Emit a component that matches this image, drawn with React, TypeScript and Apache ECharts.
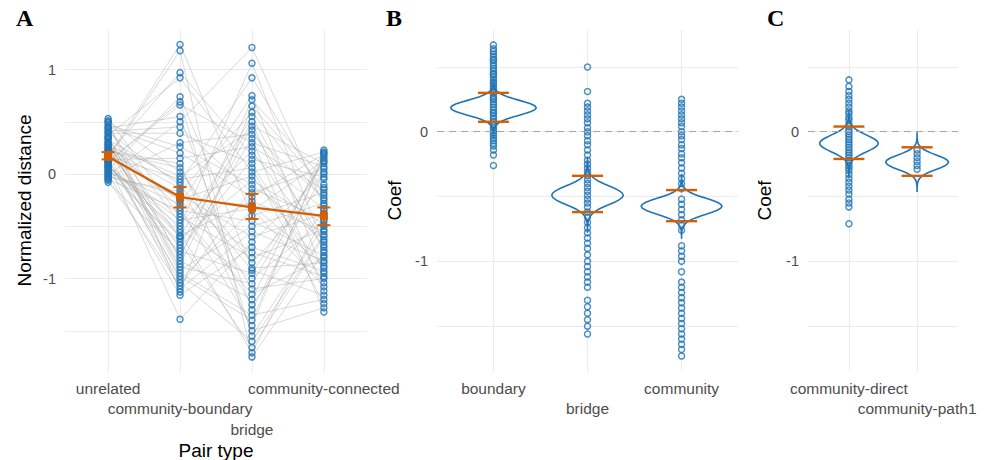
import React, { useEffect, useRef } from "react";
import * as echarts from "echarts";

// ---------- Panel A data ----------
const pairTypes = ["unrelated", "community-boundary", "bridge", "community-connected"];
const unrelated = [
  0.53, 0.12, 0.31, -0.03, 0.45, 0.2, 0.08, 0.39, -0.08, 0.27,
  0.16, 0.49, 0.02, 0.35, 0.22, 0.1, 0.43, -0.01, 0.29, 0.18,
  0.05, 0.51, 0.14, 0.37, -0.05, 0.25, 0.09, 0.41, 0.19, 0.0,
  0.33, 0.13, 0.47, 0.06, 0.24, 0.15, -0.02, 0.3, 0.21, 0.11,
  0.5, 0.04, 0.28, 0.17, 0.36, 0.07, 0.44, -0.06, 0.23, 0.14,
  0.01, 0.4, 0.19, 0.26, 0.03, 0.34, 0.12, 0.17, -0.04, 0.08,
];
const communityBoundary = [
  -0.41, 0.66, -0.95, -0.17, 0.2, -1.1, -0.56, 0.39, -0.74, -0.02,
  1.24, -0.83, -0.29, -0.62, 0.1, -1.39, -0.47, 0.5, -0.89, -0.23,
  -0.68, 0.02, -1.04, 0.92, -0.35, -0.14, -0.77, 0.45, -0.53, -1.16,
  -0.08, -0.98, 0.26, -0.44, -0.71, 1.18, -0.2, -0.86, 0.06, -0.59,
  -1.13, 0.74, -0.32, -0.05, -0.92, -0.5, 0.55, -1.07, -0.26, 0.15,
  -0.65, -0.11, 0.97, -1.01, -0.38, -0.8, 0.69, -0.24, 0.3, -0.6,
];
const bridge = [
  -0.8, 0.3, -1.35, 0.59, -0.22, -0.55, -1.71, 0.1, -0.95, 0.42,
  -0.4, -1.2, 0.75, -0.06, -1.5, -0.65, 0.22, 1.21, -1.05, -0.3,
  0.5, -0.85, -1.6, 0.02, -0.45, -1.25, 0.34, -0.18, -1.0, -0.7,
  0.92, -1.4, -0.1, -0.33, 0.14, -1.75, -0.6, 0.46, -1.1, -0.26,
  0.65, -0.9, -1.45, 0.06, -0.5, 1.06, -1.3, -0.14, -0.75, 0.26,
  -1.66, -0.92, 0.18, -0.35, -1.15, 0.71, -1.55, -0.02, 0.38, 0.55,
];
const communityConnected = [
  -0.53, 0.07, -1.2, -0.25, 0.19, -0.83, -0.4, -1.04, 0.12, -0.65,
  -0.18, 0.23, -0.95, -0.48, -1.28, 0.0, -0.7, -0.3, 0.15, -0.88,
  -1.12, -0.1, -0.58, 0.21, -0.78, -0.35, -1.32, 0.05, -0.45, -0.93,
  -0.2, 0.17, -0.63, -1.08, -0.03, -0.75, -0.38, 0.1, -1.0, -0.55,
  -0.13, -0.85, 0.2, -1.24, -0.28, -0.68, 0.02, -0.43, -0.98, -0.15,
  -0.6, -1.16, -0.33, 0.13, -0.8, -0.05, -0.5, -0.9, -0.23, -0.73,
];
const pairMeans = [0.165, -0.22, -0.32, -0.4];
const pairLower = [0.14, -0.32, -0.43, -0.49];
const pairUpper = [0.21, -0.125, -0.19, -0.32];
const yBreaksA = [-1, 0, 1];
const yGridA = [-1.5, -1, -0.5, 0, 0.5, 1];

// ---------- Panel B data ----------
const typesB = ["boundary", "bridge", "community"];
const coefBoundary = [
  0.67, 0.64, 0.62, 0.6, 0.58, 0.56, 0.55, 0.53, 0.51, 0.49, 0.47, 0.45, 0.44, 0.42, 0.4, 0.38,
  0.37, 0.35, 0.33, 0.31, 0.3, 0.28, 0.26, 0.25, 0.23, 0.21, 0.19, 0.17, 0.15, 0.14, 0.12, 0.1,
  0.08, 0.06, 0.05, 0.03, 0.01, -0.01, -0.03, -0.05, -0.07, -0.09, -0.11, -0.14, -0.18, -0.26,
];
const coefBridge = [
  0.5, 0.31, 0.22, 0.19, 0.16, 0.13, 0.1, 0.07, 0.03, 0.0, -0.03, -0.07, -0.1, -0.14, -0.18, -0.22,
  -0.25, -0.28, -0.31, -0.34, -0.37, -0.4, -0.43, -0.46, -0.49, -0.52, -0.55, -0.58, -0.62, -0.66,
  -0.7, -0.74, -0.78, -0.82, -0.86, -0.9, -0.95, -1.0, -1.04, -1.08, -1.12, -1.16, -1.2, -1.3, -1.35,
  -1.4, -1.45, -1.5, -1.56,
];
const coefCommunity = [
  0.25, 0.22, 0.19, 0.16, 0.13, 0.1, 0.07, 0.04, 0.0, -0.03, -0.06, -0.1, -0.13, -0.17, -0.2, -0.24,
  -0.28, -0.32, -0.36, -0.4, -0.44, -0.52, -0.56, -0.6, -0.64, -0.68, -0.72, -0.76, -0.88, -0.92,
  -0.96, -1.0, -1.08, -1.16, -1.2, -1.24, -1.28, -1.32, -1.36, -1.4, -1.44, -1.48, -1.52, -1.56,
  -1.6, -1.64, -1.68, -1.73,
];
const violinCenterB = [0.185, -0.49, -0.575];
const violinSdB = [0.057, 0.071, 0.061];
const violinWidthB = [0.455, 0.38, 0.43];
const intervalLowB = [0.077, -0.62, -0.69];
const intervalHighB = [0.3, -0.34, -0.45];

// ---------- Panel C data ----------
const typesC = ["community-direct", "community-path1"];
const coefDirect = [
  0.4, 0.35, 0.31, 0.28, 0.25, 0.22, 0.19, 0.16, 0.14, 0.11, 0.09, 0.06, 0.04, 0.02, 0.0, -0.02,
  -0.04, -0.06, -0.08, -0.1, -0.12, -0.14, -0.16, -0.18, -0.2, -0.22, -0.24, -0.26, -0.28, -0.3,
  -0.33, -0.36, -0.39, -0.42, -0.45, -0.48, -0.52, -0.55, -0.58, -0.71,
];
const coefPath1 = [-0.14, -0.17, -0.2, -0.23, -0.26, -0.29];
const violinCenterC = [-0.09, -0.235];
const violinSdC = [0.064, 0.056];
const violinWidthC = [0.43, 0.46];
const intervalLowC = [-0.21, -0.34];
const intervalHighC = [0.04, -0.12];
const yBreaksBC = [-1, 0];
const yGridBC = [-1.5, -1, -0.5, 0, 0.5];

// relative violin half-width, from -4 sd to +4 sd in quarter-sd steps
const densityProfile = [
  0.0003, 0.0009, 0.0022, 0.0051, 0.011, 0.023, 0.044, 0.08, 0.135, 0.216, 0.325, 0.458, 0.607,
  0.755, 0.882, 0.969, 1, 0.969, 0.882, 0.755, 0.607, 0.458, 0.325, 0.216, 0.135, 0.08, 0.044,
  0.023, 0.011, 0.0051, 0.0022, 0.0009, 0.0003,
];

const BLUE = "#1f74b5";
const ORANGE = "#D55E00";
const SANS = "'Liberation Sans', Arial, Helvetica, sans-serif";
const GRID_LINE = { color: "#ebebeb", width: 1.1 };

// One x axis per label row (dodged labels), all sharing the same scale at the bottom of the grid.
function makeXAxes(gridIndex: number, cats: string[], rows: number, name: string) {
  const axes: any[] = [];
  for (let r = 0; r < rows; r++) {
    const labelIdx = cats.map((_, i) => i).filter((i) => i % rows === r);
    axes.push({
      type: "value",
      gridIndex,
      position: "bottom",
      offset: 0,
      min: -0.6,
      max: cats.length - 1 + 0.6,
      axisLine: { show: false },
      axisTick: { show: false, customValues: cats.map((_, i) => i) },
      splitLine: { show: r === 0, lineStyle: GRID_LINE },
      axisLabel: {
        customValues: labelIdx,
        showMinLabel: true,
        showMaxLabel: true,
        formatter: (v: number) => cats[Math.round(v)],
        fontSize: 15.5,
        lineHeight: 20.5,
        margin: 7 + r * 20.5,
        color: "#4d4d4d",
        fontFamily: SANS,
      },
      name: r === 0 ? name : "",
      nameLocation: "middle",
      nameGap: 70,
      nameTextStyle: { fontSize: 19, color: "#000", fontFamily: SANS },
    });
  }
  return axes;
}

function makeY(gridIndex: number, min: number, max: number, breaks: number[], gridVals: number[], name: string, nameGap: number) {
  return {
    type: "value",
    gridIndex,
    min,
    max,
    axisLine: { show: false },
    axisTick: { show: false, customValues: gridVals },
    splitLine: { show: true, lineStyle: GRID_LINE },
    axisLabel: {
      customValues: breaks,
      showMinLabel: true,
      showMaxLabel: true,
      formatter: (v: number) => String(v),
      fontSize: 14.5,
      margin: 9,
      color: "#4d4d4d",
      fontFamily: SANS,
    },
    name,
    nameLocation: "middle",
    nameGap,
    nameTextStyle: { fontSize: 19, color: "#000", fontFamily: SANS },
  };
}

function pointsSeries(xAxis: number, yAxis: number, groups: number[][], withZero: boolean) {
  const data: number[][] = [];
  groups.forEach((g, i) => g.forEach((v) => data.push([i, v])));
  const s: any = {
    type: "scatter",
    xAxisIndex: xAxis,
    yAxisIndex: yAxis,
    data,
    symbol: "circle",
    symbolSize: 6,
    itemStyle: { color: "rgba(255,255,255,0)", borderColor: BLUE, borderWidth: 1.5 },
    z: 3,
    silent: true,
  };
  if (withZero) {
    s.markLine = {
      silent: true,
      symbol: "none",
      label: { show: false },
      lineStyle: { type: [7, 5], color: "#a6a6a6", width: 1.1 },
      data: [{ yAxis: 0 }],
    };
  }
  return s;
}

function violinSeries(xAxis: number, yAxis: number, centers: number[], sds: number[], widths: number[]) {
  return {
    type: "custom",
    xAxisIndex: xAxis,
    yAxisIndex: yAxis,
    silent: true,
    z: 4,
    data: centers.map((c, i) => [i, c, sds[i], widths[i]]),
    renderItem: (_p: any, api: any) => {
      const x = api.value(0);
      const c = api.value(1);
      const sd = api.value(2);
      const w = api.value(3);
      const right: number[][] = [];
      const left: number[][] = [];
      const n = densityProfile.length;
      densityProfile.forEach((d, k) => {
        const z = -4 + (8 * k) / (n - 1);
        const y = c + z * sd;
        right.push(api.coord([x + w * d, y]));
        left.push(api.coord([x - w * d, y]));
      });
      return {
        type: "polygon",
        shape: { points: right.concat(left.reverse()) },
        style: { fill: "none", stroke: BLUE, lineWidth: 1.6 },
      };
    },
  };
}

function intervalSeries(xAxis: number, yAxis: number, lows: number[], highs: number[]) {
  return {
    type: "custom",
    xAxisIndex: xAxis,
    yAxisIndex: yAxis,
    silent: true,
    z: 6,
    data: lows.map((l, i) => [i, l, highs[i]]),
    renderItem: (_p: any, api: any) => {
      const x = api.value(0);
      const pts = [api.coord([x, api.value(1)]), api.coord([x, api.value(2)])];
      return {
        type: "group",
        children: pts.map((p) => ({
          type: "line",
          shape: { x1: p[0] - 15.5, y1: p[1], x2: p[0] + 15.5, y2: p[1] },
          style: { stroke: ORANGE, lineWidth: 2.4 },
        })),
      };
    },
  };
}

export default function App() {
  const ref = useRef<HTMLDivElement>(null);
  useEffect(() => {
    if (!ref.current) return;
    const chart = echarts.init(ref.current, null, { renderer: "svg" });
    const letter = (text: string, left: number) => ({
      text,
      left,
      top: 6,
      padding: 0,
      textStyle: { fontFamily: "'Liberation Serif', 'Times New Roman', serif", fontWeight: "bold", fontSize: 24, color: "#000" },
    });
    const xA = makeXAxes(0, pairTypes, 3, "Pair type");
    const xB = makeXAxes(1, typesB, 2, "");
    const xC = makeXAxes(2, typesC, 2, "");
    const XA = 0;
    const XB = xA.length;
    const XC = xA.length + xB.length;
    const option: any = {
      animation: false,
      backgroundColor: "#ffffff",
      title: [letter("A", 16), letter("B", 386), letter("C", 767)],
      grid: [
        { left: 65, top: 30, width: 302, height: 341, outerBoundsMode: "none", containLabel: false },
        { left: 437, top: 30, width: 301, height: 341, outerBoundsMode: "none", containLabel: false },
        { left: 808, top: 30, width: 150, height: 341, outerBoundsMode: "none", containLabel: false },
      ],
      xAxis: [...xA, ...xB, ...xC],
      yAxis: [
        makeY(0, -1.885, 1.378, yBreaksA, yGridA, "Normalized distance", 31),
        makeY(1, -1.846, 0.785, yBreaksBC, yGridBC, "Coef", 33),
        makeY(2, -1.846, 0.785, yBreaksBC, yGridBC, "Coef", 34),
      ],
      series: [
        {
          type: "custom",
          xAxisIndex: XA,
          yAxisIndex: 0,
          silent: true,
          z: 1,
          data: unrelated.map((v, i) => [v, communityBoundary[i], bridge[i], communityConnected[i]]),
          renderItem: (_p: any, api: any) => {
            const points = [0, 1, 2, 3].map((k) => api.coord([k, api.value(k)]));
            return {
              type: "polyline",
              shape: { points },
              style: { stroke: "rgba(165,165,165,0.42)", lineWidth: 1, fill: "none" },
            };
          },
        },
        pointsSeries(XA, 0, [unrelated, communityBoundary, bridge, communityConnected], false),
        {
          type: "custom",
          xAxisIndex: XA,
          yAxisIndex: 0,
          silent: true,
          z: 6,
          data: pairLower.map((l, i) => [i, l, pairUpper[i]]),
          renderItem: (_p: any, api: any) => {
            const x = api.value(0);
            const lo = api.coord([x, api.value(1)]);
            const hi = api.coord([x, api.value(2)]);
            const st = { stroke: ORANGE, lineWidth: 2 };
            return {
              type: "group",
              children: [
                { type: "line", shape: { x1: lo[0], y1: lo[1], x2: hi[0], y2: hi[1] }, style: st },
                { type: "line", shape: { x1: lo[0] - 6.5, y1: lo[1], x2: lo[0] + 6.5, y2: lo[1] }, style: st },
                { type: "line", shape: { x1: hi[0] - 6.5, y1: hi[1], x2: hi[0] + 6.5, y2: hi[1] }, style: st },
              ],
            };
          },
        },
        {
          type: "line",
          xAxisIndex: XA,
          yAxisIndex: 0,
          silent: true,
          z: 7,
          data: pairMeans.map((m, i) => [i, m]),
          symbol: "rect",
          symbolSize: 8,
          lineStyle: { color: ORANGE, width: 2.2 },
          itemStyle: { color: ORANGE },
        },
        pointsSeries(XB, 1, [coefBoundary, coefBridge, coefCommunity], true),
        violinSeries(XB, 1, violinCenterB, violinSdB, violinWidthB),
        intervalSeries(XB, 1, intervalLowB, intervalHighB),
        pointsSeries(XC, 2, [coefDirect, coefPath1], true),
        violinSeries(XC, 2, violinCenterC, violinSdC, violinWidthC),
        intervalSeries(XC, 2, intervalLowC, intervalHighC),
      ],
    };
    chart.setOption(option);
    return () => chart.dispose();
  }, []);
  return (
    <div
      ref={ref}
      style={{ position: "absolute", left: 0, top: 0, width: 988, height: 460, background: "#fff" }}
    />
  );
}
